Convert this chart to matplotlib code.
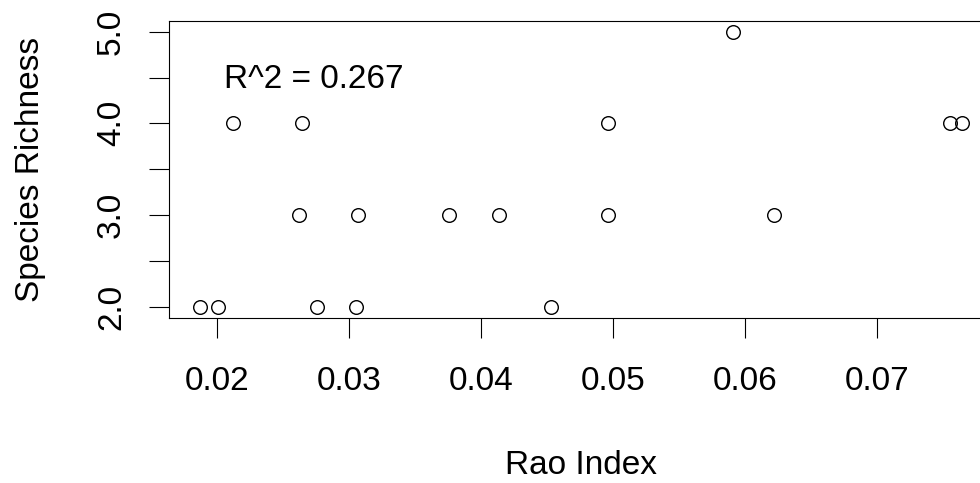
import matplotlib
matplotlib.use("Agg")
import matplotlib.pyplot as plt

rao_index = [0.01866, 0.02005, 0.02119, 0.02638, 0.02620, 0.02755, 0.03068,
             0.03048, 0.03757, 0.04131, 0.04529, 0.04957, 0.04957, 0.05910,
             0.06222, 0.07556, 0.07645]
species_richness = [2, 2, 4, 4, 3, 2, 3, 2, 3, 3, 2, 4, 3, 5, 3, 4, 4]
x_ticks = [0.02, 0.03, 0.04, 0.05, 0.06, 0.07]
x_tick_labels = ["0.02", "0.03", "0.04", "0.05", "0.06", "0.07"]
y_ticks = [2.0, 2.5, 3.0, 3.5, 4.0, 4.5, 5.0]
y_tick_labels = ["2.0", "", "3.0", "", "4.0", "", "5.0"]
r2_text = "R^2 = 0.267"

plt.rcParams['font.family'] = ['Liberation Sans', 'DejaVu Sans']

W, H = 980, 483
fig = plt.figure(figsize=(W / 100, H / 100), dpi=100)
left_px, right_px, top_px, bottom_px = 169.3, 992.7, 20.7, 317.7
ax = fig.add_axes([left_px / W, 1 - bottom_px / H,
                   (right_px - left_px) / W, (bottom_px - top_px) / H])

ax.plot(rao_index, species_richness, linestyle='none', marker='o',
        markersize=9.8, markerfacecolor='none', markeredgecolor='black',
        markeredgewidth=1.0, clip_on=False)

x0, x1 = min(rao_index), max(rao_index)
rx = x1 - x0
ax.set_xlim(x0 - 0.04 * rx, x1 + 0.04 * rx)
y0, y1 = min(species_richness), max(species_richness)
ry = y1 - y0
ax.set_ylim(y0 - 0.04 * ry, y1 + 0.04 * ry)

ax.set_xticks(x_ticks)
ax.set_xticklabels(x_tick_labels)
ax.set_yticks(y_ticks)
ax.set_yticklabels(y_tick_labels, rotation=90, va='center')

ax.tick_params(axis='x', length=14.5, width=0.8, pad=20.5, labelsize=24, colors='black')
ax.tick_params(axis='y', length=14.5, width=0.8, pad=16, labelsize=24, colors='black')

for s in ax.spines.values():
    s.set_linewidth(0.8)
    s.set_color('black')

ax.set_xlabel("Rao Index", fontsize=24, labelpad=38)
ax.set_ylabel("Species Richness", fontsize=24, labelpad=36)

ax.text(0.02047, 4.386, r2_text, fontsize=24, ha='left', va='baseline')

fig.savefig("out.png", dpi=100, facecolor='white')
